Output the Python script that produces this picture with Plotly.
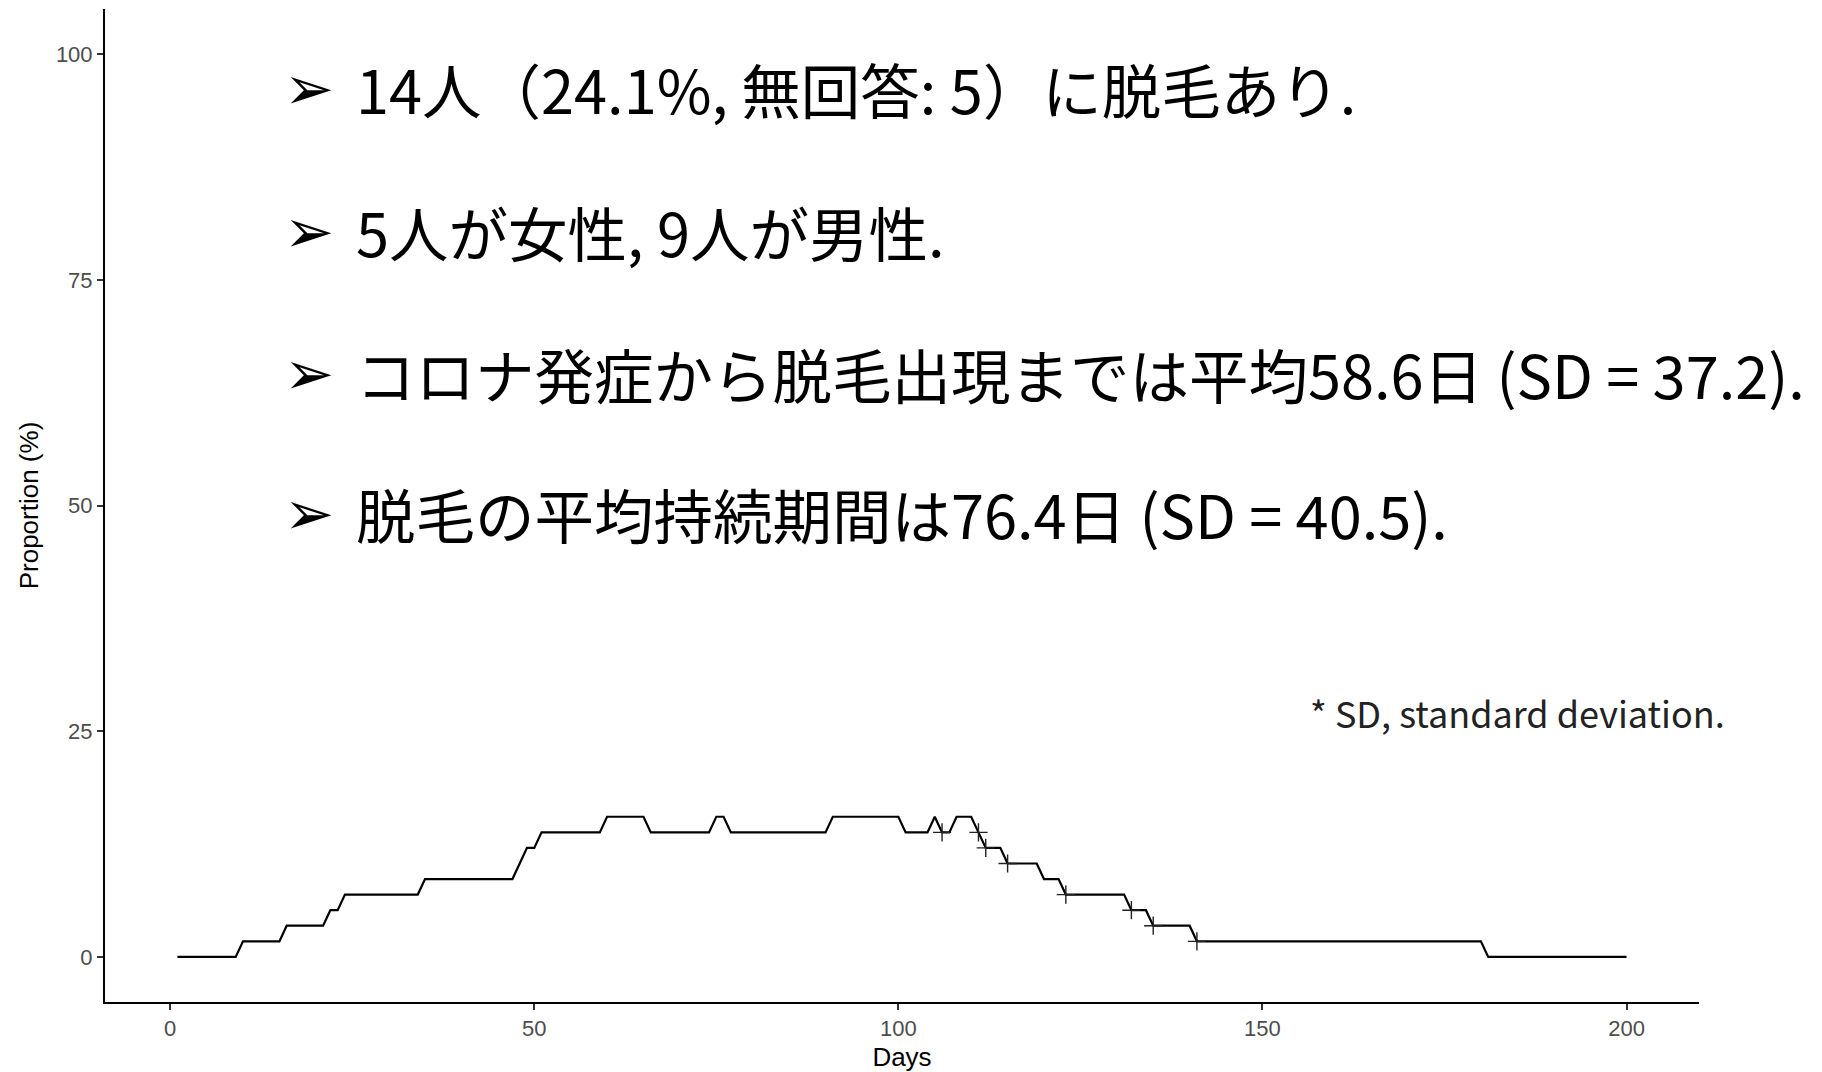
import plotly.graph_objects as go

# Step-curve vertices (day, proportion %)
curve_days = [1, 9, 10, 15, 16, 21, 22, 23, 24, 34, 35, 47, 48, 49, 50, 51, 59, 60, 65, 66,
              74, 75, 76, 77, 90, 91, 100, 101, 104, 105, 106, 107, 108, 110, 111, 112, 114,
              115, 119, 120, 122, 123, 131, 132, 134, 135, 140, 141, 180, 181, 200]
curve_pct = [0, 0, 1.72, 1.72, 3.45, 3.45, 5.17, 5.17, 6.90, 6.90, 8.62, 8.62, 10.34, 12.07,
             12.07, 13.79, 13.79, 15.52, 15.52, 13.79, 13.79, 15.52, 15.52, 13.79, 13.79,
             15.52, 15.52, 13.79, 13.79, 15.52, 13.79, 13.79, 15.52, 15.52, 13.79, 12.07,
             12.07, 10.34, 10.34, 8.62, 8.62, 6.90, 6.90, 5.17, 5.17, 3.45, 3.45, 1.72,
             1.72, 0, 0]

# Censoring marks
censor_days = [106, 111, 112, 115, 123, 132, 135, 141]
censor_pct = [13.79, 13.79, 12.07, 10.34, 6.90, 5.17, 3.45, 1.72]

x_ticks = [0, 50, 100, 150, 200]
y_ticks = [0, 25, 50, 75, 100]

bullet_lines = [
    "14人（24.1%, 無回答: 5）に脱毛あり.",
    "5人が女性, 9人が男性.",
    "コロナ発症から脱毛出現までは平均58.6日 (SD = 37.2).",
    "脱毛の平均持続期間は76.4日 (SD = 40.5).",
]
footnote = "* SD, standard deviation."

fig = go.Figure()
fig.add_trace(go.Scatter(x=curve_days, y=curve_pct, mode="lines",
                         line=dict(color="black", width=2.2), hoverinfo="skip",
                         showlegend=False))
fig.add_trace(go.Scatter(x=censor_days, y=censor_pct, mode="markers",
                         marker=dict(symbol="cross-thin-open", size=13, color="#222222",
                                     line=dict(color="#222222", width=1.4)),
                         hoverinfo="skip", showlegend=False))

line_y = [0.920, 0.776, 0.633, 0.492]
cjk = "Noto Sans CJK JP"
for txt, yy in zip(bullet_lines, line_y):
    fig.add_annotation(text="➢", xref="paper", yref="paper", x=0.111, y=yy,
                       xanchor="left", yanchor="middle", showarrow=False,
                       font=dict(family="DejaVu Sans", size=60, color="black"))
    fig.add_annotation(text=txt, xref="paper", yref="paper", x=0.156, y=yy,
                       xanchor="left", yanchor="middle", showarrow=False,
                       font=dict(family=cjk, size=59.5, color="black"))

fig.add_annotation(text=footnote, xref="paper", yref="paper", x=0.755, y=0.292,
                   xanchor="left", yanchor="middle", showarrow=False,
                   font=dict(family=cjk, size=36, color="#222222"))

axis_common = dict(showline=True, linecolor="black", linewidth=2, ticks="outside",
                   ticklen=6, tickwidth=1.5, tickcolor="#333333", showgrid=False,
                   zeroline=False, mirror=False, automargin=False,
                   tickfont=dict(family="Liberation Sans", size=22, color="#4D4D4D"))

fig.update_xaxes(range=[-8.95, 209.95], tickvals=x_ticks,
                 title=dict(text="Days", font=dict(family="Liberation Sans", size=26, color="black"),
                            standoff=7),
                 **axis_common)
fig.update_yaxes(range=[-5, 105], tickvals=y_ticks,
                 title=dict(text="Proportion (%)", font=dict(family="Liberation Sans", size=26, color="black"),
                            standoff=10),
                 **axis_common)

fig.update_layout(width=1822, height=1072, plot_bgcolor="white", paper_bgcolor="white",
                  margin=dict(l=105, r=123, t=9, b=70), showlegend=False)

fig.write_html("out.html")
